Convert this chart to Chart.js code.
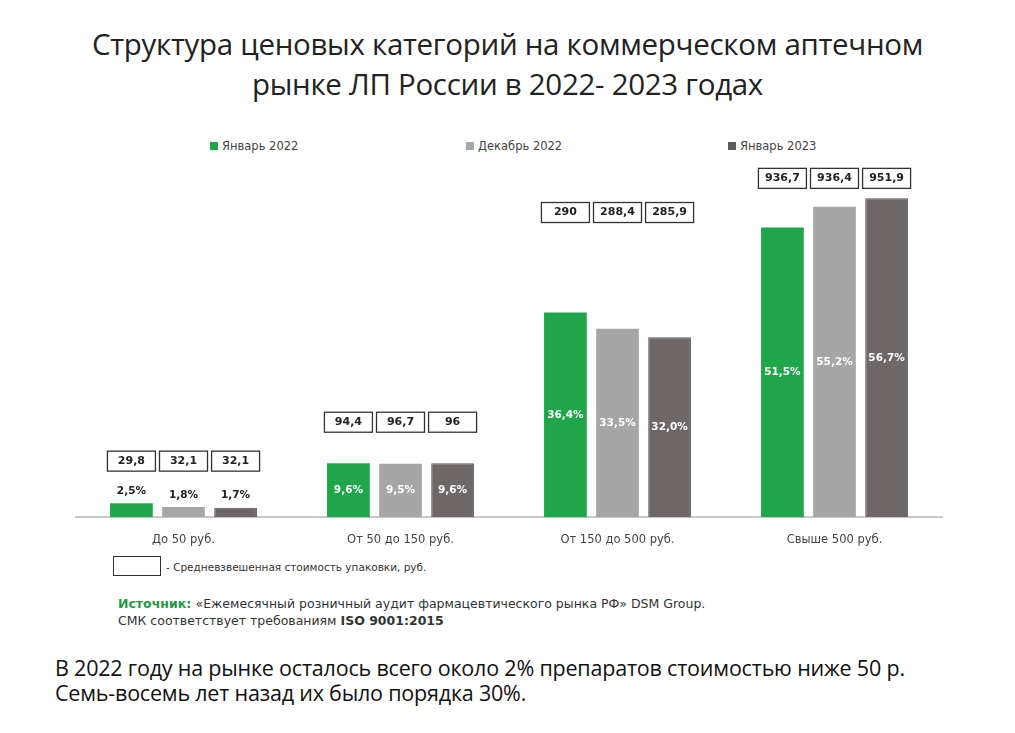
<!DOCTYPE html>
<html><head><meta charset="utf-8">
<script src="https://cdn.jsdelivr.net/npm/chart.js@4"></script>
<style>
body{margin:0;width:1015px;height:733px;background:#fff;position:relative;overflow:hidden;font-family:"Open Sans",sans-serif}
#title{position:absolute;top:24px;left:0;width:1015px;text-align:center;font-size:29.5px;line-height:40px;color:#222;letter-spacing:-0.3px}
#legend{position:absolute;top:139px;left:0;width:1015px;font-family:"DejaVu Sans";font-size:11.5px;color:#444}
#legend span{position:absolute}
#legend i{display:inline-block;width:8px;height:8px;margin-right:4px}
#cv{position:absolute;left:75px;top:130px}
.note{position:absolute;font-family:"DejaVu Sans";font-size:11px;color:#333}
#bottom{position:absolute;left:55px;top:655px;font-size:21.5px;line-height:25px;color:#111;letter-spacing:-0.2px}
</style></head><body>
<div id="title">Структура ценовых категорий на коммерческом аптечном<br>рынке ЛП России в 2022- 2023 годах</div>
<div id="legend">
<span style="left:210px"><i style="background:#1fa64a"></i>Январь 2022</span>
<span style="left:466px"><i style="background:#a6a6a6"></i>Декабрь 2022</span>
<span style="left:728px"><i style="background:#5f5a5b"></i>Январь 2023</span>
</div>
<canvas id="cv" width="868" height="425"></canvas>
<div style="position:absolute;left:113px;top:556px;width:46px;height:18px;border:1.5px solid #333"></div>
<div class="note" style="left:166px;top:561px;font-size:10.5px">- Средневзвешенная стоимость упаковки, руб.</div>
<div class="note" style="left:118px;top:596px;font-size:12.5px;font-weight:bold"><span style="color:#1e9a44">Источник:</span> <span style="font-weight:normal">«Ежемесячный розничный аудит фармацевтического рынка РФ» DSM Group.</span></div>
<div class="note" style="left:118px;top:613px;font-size:12.5px">СМК соответствует требованиям <b>ISO 9001:2015</b></div>
<div id="bottom">В 2022 году на рынке осталось всего около 2% препаратов стоимостью ниже 50 р.<br>Семь-восемь лет назад их было порядка 30%.</div>
<script>
const categories = ['До 50 руб.', 'От 50 до 150 руб.', 'От 150 до 500 руб.', 'Свыше 500 руб.'];
const seriesNames = ['Январь 2022', 'Декабрь 2022', 'Январь 2023'];
const share = [
  [2.5, 9.6, 36.4, 51.5],
  [1.8, 9.5, 33.5, 55.2],
  [1.7, 9.6, 32.0, 56.7]
];
const avgPrice = [
  ['29,8', '94,4', '290', '936,7'],
  ['32,1', '96,7', '288,4', '936,4'],
  ['32,1', '96', '285,9', '951,9']
];
const colors = ['#1fa64a', '#a6a6a6', '#6d6768'];
const boxGap = [42, 41, 100, 20]; // px above tallest bar in group

const fmt = v => v.toFixed(1).replace('.', ',') + '%';

const labelsPlugin = {
  id: 'labels',
  afterDatasetsDraw(chart) {
    const ctx = chart.ctx;
    ctx.save();
    ctx.textAlign = 'center';
    ctx.textBaseline = 'middle';
    categories.forEach((c, i) => {
      let top = Infinity;
      chart.data.datasets.forEach((ds, d) => {
        const bar = chart.getDatasetMeta(d).data[i];
        top = Math.min(top, bar.y);
        ctx.font = 'bold 10.5px DejaVu Sans';
        if (ds.data[i] < 5) {
          ctx.fillStyle = '#222';
          ctx.fillText(fmt(ds.data[i]), bar.x, bar.y - 12);
        } else {
          ctx.fillStyle = '#fff';
          ctx.fillText(fmt(ds.data[i]), bar.x, (bar.y + bar.base) / 2);
        }
      });
      chart.data.datasets.forEach((ds, d) => {
        const bar = chart.getDatasetMeta(d).data[i];
        const y = top - boxGap[i];
        ctx.fillStyle = '#fff';
        ctx.strokeStyle = '#333';
        ctx.lineWidth = 1.3;
        ctx.fillRect(bar.x - 24, y - 10, 48, 20);
        ctx.strokeRect(bar.x - 24, y - 10, 48, 20);
        ctx.fillStyle = '#222';
        ctx.font = 'bold 11px DejaVu Sans';
        ctx.fillText(avgPrice[d][i], bar.x, y);
      });
    });
    ctx.restore();
  }
};

new Chart(document.getElementById('cv'), {
  type: 'bar',
  data: {
    labels: categories,
    datasets: seriesNames.map((n, d) => ({
      label: n, data: share[d], backgroundColor: colors[d],
      borderColor: d === 2 ? '#555' : colors[d], borderWidth: d === 2 ? 1 : 0,
      categoryPercentage: 0.72, barPercentage: 0.82
    }))
  },
  options: {
    responsive: false, animation: false,
    layout: { padding: { top: 20 } },
    plugins: { legend: { display: false }, tooltip: { enabled: false } },
    scales: {
      x: {
        grid: { display: false },
        border: { color: '#c8c8c8', width: 2 },
        ticks: { color: '#444', font: { family: 'DejaVu Sans', size: 11.5 }, padding: 8 }
      },
      y: { display: false, min: 0, max: 65.3 }
    }
  },
  plugins: [labelsPlugin]
});
</script>
</body></html>
